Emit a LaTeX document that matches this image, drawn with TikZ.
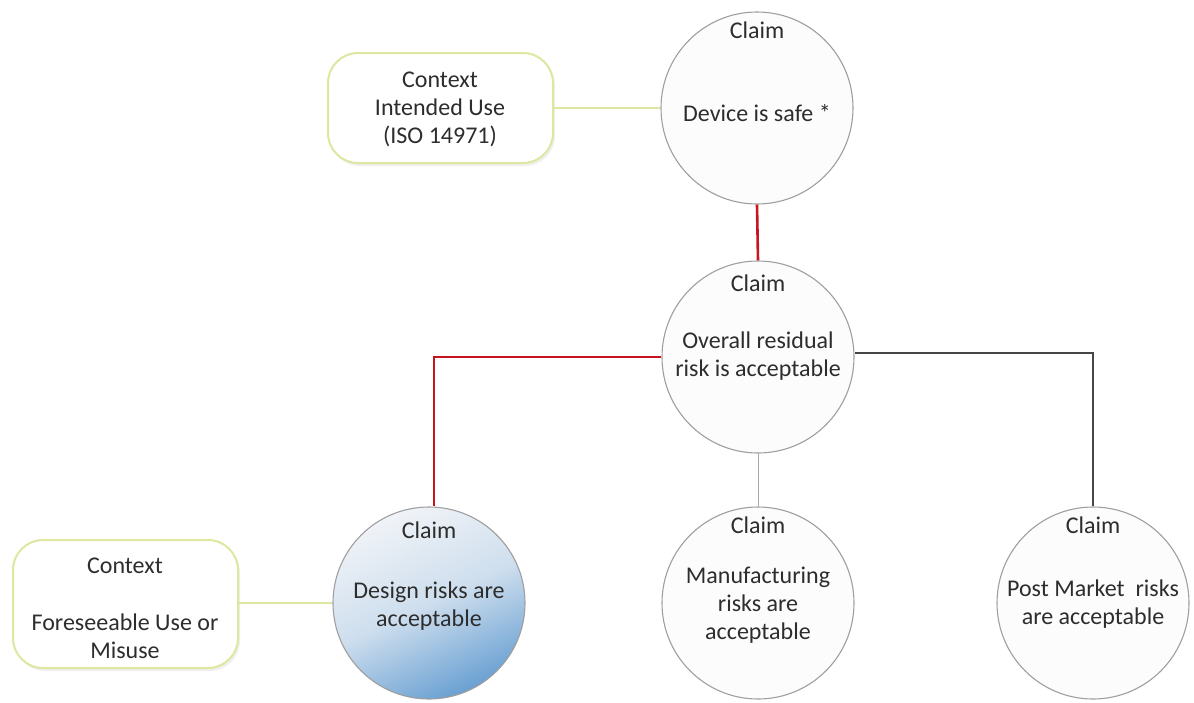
\documentclass[tikz,border=0pt]{standalone}
\usepackage{fontspec}
\setmainfont{Carlito}
\usetikzlibrary{shadows}
\definecolor{ctxline}{RGB}{222,230,160}
\definecolor{redline}{RGB}{200,20,30}
\definecolor{darkline}{RGB}{70,70,70}
\definecolor{txtcol}{RGB}{45,45,45}
\definecolor{bluedeep}{RGB}{105,160,210}
\definecolor{bluelight}{RGB}{240,243,247}
\tikzset{
  claimcircle/.style={circle, draw=gray!75, line width=1.1pt, fill=gray!2, minimum size=192pt, inner sep=0pt},
  designcircle/.style={claimcircle, top color=bluelight, bottom color=bluedeep, middle color=bluelight!75!bluedeep, shading angle=25},
  ctxbox/.style={rounded corners=30pt, draw=ctxline, line width=2pt, fill=white, drop shadow={opacity=0.12, shadow xshift=2pt, shadow yshift=-3pt}},
  txt/.style={font=\fontsize{24}{28}\selectfont, text=txtcol, align=center, inner sep=0pt},
  ctxconn/.style={draw=ctxline, line width=2pt},
  redconn/.style={draw=redline, line width=2.6pt},
  darkconn/.style={draw=darkline, line width=2pt},
  greyconn/.style={draw=gray!70, line width=1pt}
}
\begin{document}
\begin{tikzpicture}[x=1pt,y=-1pt]
\useasboundingbox (0,0) rectangle (1194,702);

% context boxes
\draw[ctxbox] (328,53) rectangle (553,163);
\coordinate (c1e) at (553,108);
\node[txt] (ctx1) at (440,109) {Context\\Intended Use\\(ISO 14971)};

\draw[ctxbox] (13,540) rectangle (238,668);
\coordinate (c2e) at (238,603);
\node[txt] (ctx2) at (125,608) {Context\\[29pt]Foreseeable Use or\\Misuse};

% claim circles
\node[claimcircle] (top) at (757,108) {};
\node[claimcircle] (mid) at (758,357) {};
\node[designcircle] (design) at (429,603) {};
\node[claimcircle] (manuf) at (758,603) {};
\node[claimcircle] (post) at (1093,603) {};

% connectors
\path[ctxconn] (c1e) -- (top.west);
\path[ctxconn] (c2e) -- (design.west);
\path[redconn] (top.south) -- (mid.north);
\path[redconn] (mid.west) -| ([xshift=5pt]design.north);
\path[darkconn] ([yshift=4pt]mid.east) -| (post.north);
\path[greyconn] (mid.south) -- (manuf.north);

% texts
\node[txt] (t1a) at ([yshift=78pt]top.center) {Claim};
\node[txt] (t1b) at ([yshift=-5pt]top.center) {Device is safe *};

\node[txt] (t2a) at ([yshift=74pt]mid.center) {Claim};
\node[txt] (t2b) at ([yshift=1pt]mid.center) {Overall residual\\risk is acceptable};

\node[txt] (t3a) at ([yshift=73pt]design.center) {Claim};
\node[txt] (t3b) at ([yshift=-3pt]design.center) {Design risks are\\acceptable};

\node[txt] (t4a) at ([yshift=78pt]manuf.center) {Claim};
\node[txt] (t4b) at ([yshift=-2pt]manuf.center) {Manufacturing\\risks are\\acceptable};

\node[txt] (t5a) at ([yshift=78pt]post.center) {Claim};
\node[txt] (t5b) at ([yshift=-1pt]post.center) {Post Market~ risks\\are acceptable};
\end{tikzpicture}
\end{document}
